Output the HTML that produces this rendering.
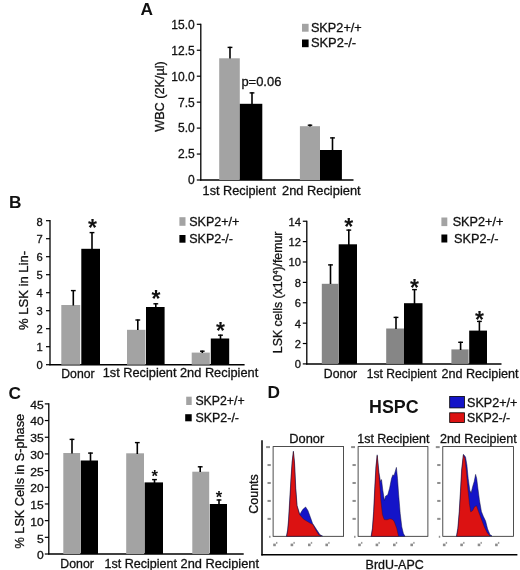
<!DOCTYPE html>
<html><head><meta charset="utf-8"><title>Figure</title>
<style>
html,body{margin:0;padding:0;background:#fff;}
body{width:520px;height:570px;overflow:hidden;}
svg{display:block;will-change:transform;filter:blur(0.3px);font-family:"Liberation Sans", sans-serif;fill:#111;}
text{stroke:#111;stroke-width:0.3px;}
text[font-weight=bold]{stroke:none;}
</style></head><body>
<svg width="520" height="570" viewBox="0 0 520 570">
<rect x="0" y="0" width="520" height="570" fill="#fff"/>
<text x="140.4" y="14.9" font-size="17.3" text-anchor="start" font-weight="bold" >A</text>
<line x1="200.8" y1="23.70000000000001" x2="200.8" y2="180.6" stroke="#000" stroke-width="1.3"/>
<line x1="200.20000000000002" y1="180.0" x2="353.5" y2="180.0" stroke="#000" stroke-width="1.5"/>
<line x1="196.8" y1="180.0" x2="200.8" y2="180.0" stroke="#000" stroke-width="1.2"/>
<text transform="translate(194.8,184.05) scale(0.98,1)" font-size="12.3" text-anchor="end" font-weight="normal" >0</text>
<line x1="196.8" y1="154.05" x2="200.8" y2="154.05" stroke="#000" stroke-width="1.2"/>
<text transform="translate(194.8,158.27) scale(0.98,1)" font-size="12.3" text-anchor="end" font-weight="normal" >2.5</text>
<line x1="196.8" y1="128.1" x2="200.8" y2="128.1" stroke="#000" stroke-width="1.2"/>
<text transform="translate(194.8,132.48) scale(0.98,1)" font-size="12.3" text-anchor="end" font-weight="normal" >5.0</text>
<line x1="196.8" y1="102.15" x2="200.8" y2="102.15" stroke="#000" stroke-width="1.2"/>
<text transform="translate(194.8,106.7) scale(0.98,1)" font-size="12.3" text-anchor="end" font-weight="normal" >7.5</text>
<line x1="196.8" y1="76.2" x2="200.8" y2="76.2" stroke="#000" stroke-width="1.2"/>
<text transform="translate(194.8,80.92) scale(0.98,1)" font-size="12.3" text-anchor="end" font-weight="normal" >10.0</text>
<line x1="196.8" y1="50.25" x2="200.8" y2="50.25" stroke="#000" stroke-width="1.2"/>
<text transform="translate(194.8,55.13) scale(0.98,1)" font-size="12.3" text-anchor="end" font-weight="normal" >12.5</text>
<line x1="196.8" y1="24.30000000000001" x2="200.8" y2="24.30000000000001" stroke="#000" stroke-width="1.2"/>
<text transform="translate(194.8,29.35) scale(0.98,1)" font-size="12.3" text-anchor="end" font-weight="normal" >15.0</text>
<rect x="219.2" y="58.3" width="20.6" height="121.7" fill="#a3a3a3" />
<rect x="239.8" y="103.8" width="22.5" height="76.2" fill="#000" />
<line x1="230" y1="46.8" x2="230" y2="58.5" stroke="#000" stroke-width="1.6"/>
<line x1="227.6" y1="47.4" x2="232.4" y2="47.4" stroke="#000" stroke-width="1.4"/>
<line x1="252" y1="92.3" x2="252" y2="104" stroke="#000" stroke-width="1.6"/>
<line x1="249.6" y1="92.89999999999999" x2="254.4" y2="92.89999999999999" stroke="#000" stroke-width="1.4"/>
<rect x="299.9" y="126.2" width="20.1" height="53.8" fill="#a3a3a3" />
<rect x="320" y="150" width="21.9" height="30.0" fill="#000" />
<line x1="310" y1="124.6" x2="310" y2="126.5" stroke="#000" stroke-width="1.6"/>
<line x1="307.75" y1="125.19999999999999" x2="312.25" y2="125.19999999999999" stroke="#000" stroke-width="1.4"/>
<line x1="332.5" y1="137.3" x2="332.5" y2="150.5" stroke="#000" stroke-width="1.6"/>
<line x1="330.1" y1="137.9" x2="334.9" y2="137.9" stroke="#000" stroke-width="1.4"/>
<text x="241.4" y="86" font-size="13" text-anchor="start" font-weight="normal" textLength="40" lengthAdjust="spacingAndGlyphs" >p=0.06</text>
<text x="202.6" y="195.3" font-size="13" text-anchor="start" font-weight="normal" textLength="73.4" lengthAdjust="spacingAndGlyphs" >1st Recipient</text>
<text x="282.0" y="195.3" font-size="13" text-anchor="start" font-weight="normal" textLength="78.6" lengthAdjust="spacingAndGlyphs" >2nd Recipient</text>
<text transform="translate(164.0,96.5) rotate(-90)" font-size="12.8" text-anchor="middle" textLength="70.5" lengthAdjust="spacingAndGlyphs">WBC (2K/µl)</text>
<rect x="302" y="23.8" width="6.6" height="7.9" fill="#a3a3a3" />
<rect x="302" y="39.5" width="6.6" height="7.7" fill="#000" />
<text x="310.9" y="31.7" font-size="12.5" text-anchor="start" font-weight="normal" textLength="50.9" lengthAdjust="spacingAndGlyphs" >SKP2+/+</text>
<text x="310.9" y="47.3" font-size="12.5" text-anchor="start" font-weight="normal" textLength="45.2" lengthAdjust="spacingAndGlyphs" >SKP2-/-</text>
<text x="9.0" y="208.4" font-size="17.3" text-anchor="start" font-weight="bold" >B</text>
<line x1="50" y1="220.1" x2="50" y2="365.3" stroke="#000" stroke-width="1.3"/>
<line x1="49.4" y1="364.7" x2="244.6" y2="364.7" stroke="#000" stroke-width="1.5"/>
<line x1="46" y1="364.7" x2="50" y2="364.7" stroke="#000" stroke-width="1.2"/>
<text transform="translate(42.7,369.1) scale(1.0,1)" font-size="11.2" text-anchor="end" font-weight="normal" >0</text>
<line x1="46" y1="346.7" x2="50" y2="346.7" stroke="#000" stroke-width="1.2"/>
<text transform="translate(42.7,351.16) scale(1.0,1)" font-size="11.2" text-anchor="end" font-weight="normal" >1</text>
<line x1="46" y1="328.7" x2="50" y2="328.7" stroke="#000" stroke-width="1.2"/>
<text transform="translate(42.7,333.21) scale(1.0,1)" font-size="11.2" text-anchor="end" font-weight="normal" >2</text>
<line x1="46" y1="310.7" x2="50" y2="310.7" stroke="#000" stroke-width="1.2"/>
<text transform="translate(42.7,315.27) scale(1.0,1)" font-size="11.2" text-anchor="end" font-weight="normal" >3</text>
<line x1="46" y1="292.7" x2="50" y2="292.7" stroke="#000" stroke-width="1.2"/>
<text transform="translate(42.7,297.32) scale(1.0,1)" font-size="11.2" text-anchor="end" font-weight="normal" >4</text>
<line x1="46" y1="274.7" x2="50" y2="274.7" stroke="#000" stroke-width="1.2"/>
<text transform="translate(42.7,279.38) scale(1.0,1)" font-size="11.2" text-anchor="end" font-weight="normal" >5</text>
<line x1="46" y1="256.7" x2="50" y2="256.7" stroke="#000" stroke-width="1.2"/>
<text transform="translate(42.7,261.44) scale(1.0,1)" font-size="11.2" text-anchor="end" font-weight="normal" >6</text>
<line x1="46" y1="238.7" x2="50" y2="238.7" stroke="#000" stroke-width="1.2"/>
<text transform="translate(42.7,243.49) scale(1.0,1)" font-size="11.2" text-anchor="end" font-weight="normal" >7</text>
<line x1="46" y1="220.7" x2="50" y2="220.7" stroke="#000" stroke-width="1.2"/>
<text transform="translate(42.7,225.55) scale(1.0,1)" font-size="11.2" text-anchor="end" font-weight="normal" >8</text>
<rect x="61.3" y="305" width="18.9" height="59.7" fill="#a3a3a3" />
<rect x="81.3" y="248.8" width="18.7" height="115.9" fill="#000" />
<line x1="73.3" y1="290" x2="73.3" y2="305.5" stroke="#000" stroke-width="1.6"/>
<line x1="70.89999999999999" y1="290.6" x2="75.7" y2="290.6" stroke="#000" stroke-width="1.4"/>
<line x1="92" y1="232" x2="92" y2="249" stroke="#000" stroke-width="1.6"/>
<line x1="89.6" y1="232.6" x2="94.4" y2="232.6" stroke="#000" stroke-width="1.4"/>
<text x="92.5" y="236.41" font-size="23" text-anchor="middle" font-weight="bold">*</text>
<rect x="127" y="329.8" width="18.5" height="34.9" fill="#a3a3a3" />
<rect x="146" y="307" width="18.6" height="57.7" fill="#000" />
<line x1="137.8" y1="319.4" x2="137.8" y2="330" stroke="#000" stroke-width="1.6"/>
<line x1="135.4" y1="320.0" x2="140.20000000000002" y2="320.0" stroke="#000" stroke-width="1.4"/>
<line x1="155.8" y1="303.2" x2="155.8" y2="307.5" stroke="#000" stroke-width="1.6"/>
<line x1="153.4" y1="303.8" x2="158.20000000000002" y2="303.8" stroke="#000" stroke-width="1.4"/>
<text x="156" y="307.4" font-size="23" text-anchor="middle" font-weight="bold">*</text>
<rect x="191.7" y="352.6" width="18.1" height="12.1" fill="#a3a3a3" />
<rect x="210.8" y="338.5" width="18.4" height="26.2" fill="#000" />
<line x1="202.3" y1="350.6" x2="202.3" y2="353" stroke="#000" stroke-width="1.6"/>
<line x1="200.0" y1="351.20000000000005" x2="204.60000000000002" y2="351.20000000000005" stroke="#000" stroke-width="1.4"/>
<line x1="220.5" y1="334.6" x2="220.5" y2="339" stroke="#000" stroke-width="1.6"/>
<line x1="218.1" y1="335.20000000000005" x2="222.9" y2="335.20000000000005" stroke="#000" stroke-width="1.4"/>
<text x="220.6" y="338.71" font-size="23" text-anchor="middle" font-weight="bold">*</text>
<text x="61.3" y="377.6" font-size="13" text-anchor="start" font-weight="normal" textLength="33.3" lengthAdjust="spacingAndGlyphs" >Donor</text>
<text x="102.7" y="377.4" font-size="13" text-anchor="start" font-weight="normal" textLength="73.8" lengthAdjust="spacingAndGlyphs" >1st Recipient</text>
<text x="180.0" y="377.4" font-size="13" text-anchor="start" font-weight="normal" textLength="78.2" lengthAdjust="spacingAndGlyphs" >2nd Recipient</text>
<text transform="translate(28.0,290.5) rotate(-90)" font-size="13" text-anchor="middle" textLength="79" lengthAdjust="spacingAndGlyphs">% LSK in Lin-</text>
<rect x="179.4" y="217.2" width="6.1" height="8.6" fill="#a3a3a3" />
<rect x="179.4" y="235" width="6.1" height="7.7" fill="#000" />
<text x="189.2" y="225.8" font-size="12.5" text-anchor="start" font-weight="normal" textLength="50.2" lengthAdjust="spacingAndGlyphs" >SKP2+/+</text>
<text x="189.2" y="242.7" font-size="12.5" text-anchor="start" font-weight="normal" textLength="43.8" lengthAdjust="spacingAndGlyphs" >SKP2-/-</text>
<line x1="306.8" y1="220.64" x2="306.8" y2="364.5" stroke="#000" stroke-width="1.3"/>
<line x1="306.2" y1="363.9" x2="501.5" y2="363.9" stroke="#000" stroke-width="1.5"/>
<line x1="302.8" y1="363.9" x2="306.8" y2="363.9" stroke="#000" stroke-width="1.2"/>
<text transform="translate(301.0,368.3) scale(1.0,1)" font-size="11.2" text-anchor="end" font-weight="normal" >0</text>
<line x1="302.8" y1="343.52" x2="306.8" y2="343.52" stroke="#000" stroke-width="1.2"/>
<text transform="translate(301.0,347.92) scale(1.0,1)" font-size="11.2" text-anchor="end" font-weight="normal" >2</text>
<line x1="302.8" y1="323.14" x2="306.8" y2="323.14" stroke="#000" stroke-width="1.2"/>
<text transform="translate(301.0,327.54) scale(1.0,1)" font-size="11.2" text-anchor="end" font-weight="normal" >4</text>
<line x1="302.8" y1="302.76" x2="306.8" y2="302.76" stroke="#000" stroke-width="1.2"/>
<text transform="translate(301.0,307.16) scale(1.0,1)" font-size="11.2" text-anchor="end" font-weight="normal" >6</text>
<line x1="302.8" y1="282.38" x2="306.8" y2="282.38" stroke="#000" stroke-width="1.2"/>
<text transform="translate(301.0,286.78) scale(1.0,1)" font-size="11.2" text-anchor="end" font-weight="normal" >8</text>
<line x1="302.8" y1="262.0" x2="306.8" y2="262.0" stroke="#000" stroke-width="1.2"/>
<text transform="translate(301.0,266.4) scale(1.0,1)" font-size="11.2" text-anchor="end" font-weight="normal" >10</text>
<line x1="302.8" y1="241.61999999999998" x2="306.8" y2="241.61999999999998" stroke="#000" stroke-width="1.2"/>
<text transform="translate(301.0,246.02) scale(1.0,1)" font-size="11.2" text-anchor="end" font-weight="normal" >12</text>
<line x1="302.8" y1="221.23999999999998" x2="306.8" y2="221.23999999999998" stroke="#000" stroke-width="1.2"/>
<text transform="translate(301.0,225.64) scale(1.0,1)" font-size="11.2" text-anchor="end" font-weight="normal" >14</text>
<rect x="321.8" y="283.8" width="16.5" height="80.1" fill="#868686" />
<rect x="338.7" y="244.3" width="18.3" height="119.6" fill="#000" />
<line x1="330.5" y1="264.3" x2="330.5" y2="284" stroke="#000" stroke-width="1.6"/>
<line x1="328.1" y1="264.90000000000003" x2="332.9" y2="264.90000000000003" stroke="#000" stroke-width="1.4"/>
<line x1="348.8" y1="229.5" x2="348.8" y2="245" stroke="#000" stroke-width="1.6"/>
<line x1="346.40000000000003" y1="230.1" x2="351.2" y2="230.1" stroke="#000" stroke-width="1.4"/>
<text x="348.8" y="235.21" font-size="23" text-anchor="middle" font-weight="bold">*</text>
<rect x="386.2" y="328.5" width="17.8" height="35.4" fill="#868686" />
<rect x="404" y="303.2" width="18.5" height="60.7" fill="#000" />
<line x1="396" y1="316.8" x2="396" y2="329" stroke="#000" stroke-width="1.6"/>
<line x1="393.6" y1="317.40000000000003" x2="398.4" y2="317.40000000000003" stroke="#000" stroke-width="1.4"/>
<line x1="414.5" y1="289" x2="414.5" y2="304" stroke="#000" stroke-width="1.6"/>
<line x1="412.1" y1="289.6" x2="416.9" y2="289.6" stroke="#000" stroke-width="1.4"/>
<text x="414.5" y="295.71" font-size="23" text-anchor="middle" font-weight="bold">*</text>
<rect x="451.4" y="349.4" width="17.2" height="14.5" fill="#868686" />
<rect x="469.2" y="330.6" width="17.8" height="33.3" fill="#000" />
<line x1="460.6" y1="341.7" x2="460.6" y2="350" stroke="#000" stroke-width="1.6"/>
<line x1="458.20000000000005" y1="342.3" x2="463.0" y2="342.3" stroke="#000" stroke-width="1.4"/>
<line x1="479.4" y1="320.8" x2="479.4" y2="331" stroke="#000" stroke-width="1.6"/>
<line x1="477.0" y1="321.40000000000003" x2="481.79999999999995" y2="321.40000000000003" stroke="#000" stroke-width="1.4"/>
<text x="479.4" y="327.71" font-size="23" text-anchor="middle" font-weight="bold">*</text>
<text x="323.8" y="377.8" font-size="13" text-anchor="start" font-weight="normal" textLength="33.4" lengthAdjust="spacingAndGlyphs" >Donor</text>
<text x="366.8" y="377.8" font-size="13" text-anchor="start" font-weight="normal" textLength="69.8" lengthAdjust="spacingAndGlyphs" >1st Recipient</text>
<text x="441.5" y="377.8" font-size="13" text-anchor="start" font-weight="normal" textLength="77" lengthAdjust="spacingAndGlyphs" >2nd Recipient</text>
<text transform="translate(282.2,292.4) rotate(-90)" font-size="12.3" text-anchor="middle">LSK cells (x10<tspan font-size="7" dy="-4">4</tspan><tspan dy="4">)/femur</tspan></text>
<rect x="441.4" y="217.5" width="5.9" height="8.6" fill="#a3a3a3" />
<rect x="441.4" y="234.5" width="5.9" height="8.0" fill="#000" />
<text x="452.7" y="226.1" font-size="12.5" text-anchor="start" font-weight="normal" textLength="50.6" lengthAdjust="spacingAndGlyphs" >SKP2+/+</text>
<text x="454" y="243" font-size="12.5" text-anchor="start" font-weight="normal" textLength="44.5" lengthAdjust="spacingAndGlyphs" >SKP2-/-</text>
<text x="8.6" y="399.0" font-size="17.3" text-anchor="start" font-weight="bold" >C</text>
<line x1="48.8" y1="403.28" x2="48.8" y2="554.6" stroke="#000" stroke-width="1.3"/>
<line x1="48.199999999999996" y1="554" x2="243.7" y2="554" stroke="#000" stroke-width="1.5"/>
<line x1="44.8" y1="554.0" x2="48.8" y2="554.0" stroke="#000" stroke-width="1.2"/>
<text transform="translate(43.8,559.3) scale(1.08,1)" font-size="11.2" text-anchor="end" font-weight="normal" >0</text>
<line x1="44.8" y1="537.32" x2="48.8" y2="537.32" stroke="#000" stroke-width="1.2"/>
<text transform="translate(43.8,542.55) scale(1.08,1)" font-size="11.2" text-anchor="end" font-weight="normal" >5</text>
<line x1="44.8" y1="520.64" x2="48.8" y2="520.64" stroke="#000" stroke-width="1.2"/>
<text transform="translate(43.8,525.81) scale(1.08,1)" font-size="11.2" text-anchor="end" font-weight="normal" >10</text>
<line x1="44.8" y1="503.96" x2="48.8" y2="503.96" stroke="#000" stroke-width="1.2"/>
<text transform="translate(43.8,509.06) scale(1.08,1)" font-size="11.2" text-anchor="end" font-weight="normal" >15</text>
<line x1="44.8" y1="487.28" x2="48.8" y2="487.28" stroke="#000" stroke-width="1.2"/>
<text transform="translate(43.8,492.31) scale(1.08,1)" font-size="11.2" text-anchor="end" font-weight="normal" >20</text>
<line x1="44.8" y1="470.6" x2="48.8" y2="470.6" stroke="#000" stroke-width="1.2"/>
<text transform="translate(43.8,475.57) scale(1.08,1)" font-size="11.2" text-anchor="end" font-weight="normal" >25</text>
<line x1="44.8" y1="453.92" x2="48.8" y2="453.92" stroke="#000" stroke-width="1.2"/>
<text transform="translate(43.8,458.82) scale(1.08,1)" font-size="11.2" text-anchor="end" font-weight="normal" >30</text>
<line x1="44.8" y1="437.24" x2="48.8" y2="437.24" stroke="#000" stroke-width="1.2"/>
<text transform="translate(43.8,442.07) scale(1.08,1)" font-size="11.2" text-anchor="end" font-weight="normal" >35</text>
<line x1="44.8" y1="420.56" x2="48.8" y2="420.56" stroke="#000" stroke-width="1.2"/>
<text transform="translate(43.8,425.33) scale(1.08,1)" font-size="11.2" text-anchor="end" font-weight="normal" >40</text>
<line x1="44.8" y1="403.88" x2="48.8" y2="403.88" stroke="#000" stroke-width="1.2"/>
<text transform="translate(43.8,408.58) scale(1.08,1)" font-size="11.2" text-anchor="end" font-weight="normal" >45</text>
<rect x="63.3" y="453" width="16.8" height="101" fill="#a3a3a3" />
<rect x="80.7" y="460.5" width="17.3" height="93.5" fill="#000" />
<line x1="72" y1="438.8" x2="72" y2="453.5" stroke="#000" stroke-width="1.6"/>
<line x1="69.6" y1="439.40000000000003" x2="74.4" y2="439.40000000000003" stroke="#000" stroke-width="1.4"/>
<line x1="90.5" y1="452.5" x2="90.5" y2="461" stroke="#000" stroke-width="1.6"/>
<line x1="88.1" y1="453.1" x2="92.9" y2="453.1" stroke="#000" stroke-width="1.4"/>
<rect x="126.2" y="453.3" width="17.8" height="100.7" fill="#a3a3a3" />
<rect x="144.6" y="482.4" width="18.4" height="71.6" fill="#000" />
<line x1="137.3" y1="442" x2="137.3" y2="454" stroke="#000" stroke-width="1.6"/>
<line x1="134.9" y1="442.6" x2="139.70000000000002" y2="442.6" stroke="#000" stroke-width="1.4"/>
<line x1="154.5" y1="479" x2="154.5" y2="483" stroke="#000" stroke-width="1.6"/>
<line x1="152.1" y1="479.6" x2="156.9" y2="479.6" stroke="#000" stroke-width="1.4"/>
<text x="154.8" y="481.93" font-size="16.5" text-anchor="middle" font-weight="bold">*</text>
<rect x="192.3" y="471.7" width="16.9" height="82.3" fill="#a3a3a3" />
<rect x="209.8" y="504" width="17.2" height="50" fill="#000" />
<line x1="200.2" y1="466.2" x2="200.2" y2="472" stroke="#000" stroke-width="1.6"/>
<line x1="197.79999999999998" y1="466.8" x2="202.6" y2="466.8" stroke="#000" stroke-width="1.4"/>
<line x1="219" y1="499.4" x2="219" y2="504.5" stroke="#000" stroke-width="1.6"/>
<line x1="216.6" y1="500.0" x2="221.4" y2="500.0" stroke="#000" stroke-width="1.4"/>
<text x="219" y="502.53" font-size="16.5" text-anchor="middle" font-weight="bold">*</text>
<text x="60.3" y="568.2" font-size="13" text-anchor="start" font-weight="normal" textLength="33.6" lengthAdjust="spacingAndGlyphs" >Donor</text>
<text x="104.4" y="568.2" font-size="13" text-anchor="start" font-weight="normal" textLength="72.6" lengthAdjust="spacingAndGlyphs" >1st Recipient</text>
<text x="180.6" y="568.2" font-size="13" text-anchor="start" font-weight="normal" textLength="78.4" lengthAdjust="spacingAndGlyphs" >2nd Recipient</text>
<text transform="translate(23.6,481.2) rotate(-90)" font-size="12.5" text-anchor="middle" textLength="134.5" lengthAdjust="spacingAndGlyphs">% LSK Cells in S-phase</text>
<rect x="186.2" y="396.7" width="5.5" height="8.3" fill="#a3a3a3" />
<rect x="185.2" y="414.2" width="6.5" height="7.1" fill="#000" />
<text x="195.4" y="405" font-size="12.5" text-anchor="start" font-weight="normal" textLength="49.2" lengthAdjust="spacingAndGlyphs" >SKP2+/+</text>
<text x="195.4" y="422" font-size="12.5" text-anchor="start" font-weight="normal" textLength="43.6" lengthAdjust="spacingAndGlyphs" >SKP2-/-</text>
<text x="267.4" y="398.0" font-size="17.3" text-anchor="start" font-weight="bold" >D</text>
<text x="369" y="412.8" font-size="17.5" text-anchor="start" font-weight="bold" textLength="49.6" lengthAdjust="spacingAndGlyphs" >HSPC</text>
<rect x="449.7" y="396.4" width="14.7" height="11.5" fill="#1414c8" stroke="#000" stroke-width="0.8"/>
<rect x="449.7" y="412.8" width="14.7" height="9.8" fill="#dc1212" stroke="#000" stroke-width="0.8"/>
<text x="467" y="407" font-size="12.5" text-anchor="start" font-weight="normal" textLength="50.4" lengthAdjust="spacingAndGlyphs" >SKP2+/+</text>
<text x="467" y="422" font-size="12.5" text-anchor="start" font-weight="normal" textLength="43.2" lengthAdjust="spacingAndGlyphs" >SKP2-/-</text>
<text x="289.3" y="442.7" font-size="13" text-anchor="start" font-weight="normal" textLength="35" lengthAdjust="spacingAndGlyphs" >Donor</text>
<text x="357.2" y="442.9" font-size="13" text-anchor="start" font-weight="normal" textLength="72.2" lengthAdjust="spacingAndGlyphs" >1st Recipient</text>
<text x="439.9" y="442.9" font-size="13" text-anchor="start" font-weight="normal" textLength="76.8" lengthAdjust="spacingAndGlyphs" >2nd Recipient</text>
<text transform="translate(257.6,494.0) rotate(-90)" font-size="12.4" text-anchor="middle" textLength="39.6" lengthAdjust="spacingAndGlyphs">Counts</text>
<text x="365.6" y="569" font-size="12.5" text-anchor="start" font-weight="normal" textLength="58.1" lengthAdjust="spacingAndGlyphs" >BrdU-APC</text>
<line x1="262.0" y1="440.2" x2="262.0" y2="555.4" stroke="#000" stroke-width="1.5"/>
<line x1="261.3" y1="554.7" x2="517.4" y2="554.7" stroke="#000" stroke-width="1.6"/>
<rect x="273.1" y="446.6" width="70.5" height="89.7" fill="#fff" stroke="#222" stroke-width="0.8"/>
<polygon points="286.4,536.2 287.6,530 288.5,520 289.7,500 291.0,478 292.1,462 293.4,451 294.6,463.2 295.8,488.3 297.1,505.7 299.8,514.4 302.7,509.6 305.6,507 307.9,510.5 310.4,517.3 312.5,523.3 316.4,529.3 320,534.8 322.5,536" fill="#1414c8" stroke="#101040" stroke-width="0.5"/>
<polygon points="286.8,536.2 287.9,530 288.8,520 290.0,500 291.2,478 292.3,462 293.4,452 294.4,463.2 295.5,488.3 296.9,505.7 299.4,514.4 303.6,519.2 309.4,522.7 312.9,524.6 315.6,529.8 318.7,534.7 321,536" fill="#dc1212" stroke="#401010" stroke-width="0.4"/>
<rect x="266.1" y="446.1" width="3.9" height="2" fill="#8e8e8e"/>
<rect x="267.5" y="464.04" width="3.3" height="2" fill="#8e8e8e"/>
<rect x="267.5" y="481.98" width="3.3" height="2" fill="#8e8e8e"/>
<rect x="267.5" y="499.92" width="3.3" height="2" fill="#8e8e8e"/>
<rect x="267.5" y="517.86" width="3.3" height="2" fill="#8e8e8e"/>
<rect x="269.1" y="535.8" width="1.4" height="2" fill="#8e8e8e"/>
<rect x="273.2" y="543.6" width="2.6" height="2.6" fill="#8c8c8c"/>
<rect x="276.0" y="541.9" width="1.4" height="1.9" fill="#9c9c9c"/>
<rect x="290.6" y="543.6" width="2.6" height="2.6" fill="#8c8c8c"/>
<rect x="293.4" y="541.9" width="1.4" height="1.9" fill="#9c9c9c"/>
<rect x="308.0" y="543.6" width="2.6" height="2.6" fill="#8c8c8c"/>
<rect x="310.8" y="541.9" width="1.4" height="1.9" fill="#9c9c9c"/>
<rect x="325.4" y="543.6" width="2.6" height="2.6" fill="#8c8c8c"/>
<rect x="328.2" y="541.9" width="1.4" height="1.9" fill="#9c9c9c"/>
<rect x="358.1" y="446.6" width="69.8" height="89.7" fill="#fff" stroke="#222" stroke-width="0.8"/>
<polygon points="371.1,536.3 372.4,528.3 373.6,511.7 374.8,486.7 375.9,466.7 377.2,454.8 379,472.8 380.5,481.5 381.5,479.6 382.8,490.2 384.4,500.3 385.7,496 387.7,495 389.6,488.3 391.5,478.6 392.9,474.8 394,475.7 396.4,467.4 397.5,478.6 398.6,494.1 400.2,513.4 401.8,526.9 403.4,533.5 405.0,536.3" fill="#1414c8" stroke="#101040" stroke-width="0.5"/>
<polygon points="371.5,536.3 372.7,528.3 373.9,511.7 375.1,486.7 376.2,466.7 377.2,455.8 378.4,470 379.4,481 380.8,500 382.4,514.5 384.2,519.6 387,519.8 390,518.8 392.5,519.4 394.3,521.7 396.7,528.3 398.5,536.3" fill="#dc1212" stroke="#401010" stroke-width="0.4"/>
<rect x="351.1" y="446.1" width="3.9" height="2" fill="#8e8e8e"/>
<rect x="352.5" y="464.04" width="3.3" height="2" fill="#8e8e8e"/>
<rect x="352.5" y="481.98" width="3.3" height="2" fill="#8e8e8e"/>
<rect x="352.5" y="499.92" width="3.3" height="2" fill="#8e8e8e"/>
<rect x="352.5" y="517.86" width="3.3" height="2" fill="#8e8e8e"/>
<rect x="354.1" y="535.8" width="1.4" height="2" fill="#8e8e8e"/>
<rect x="358.2" y="543.6" width="2.6" height="2.6" fill="#8c8c8c"/>
<rect x="361.0" y="541.9" width="1.4" height="1.9" fill="#9c9c9c"/>
<rect x="375.6" y="543.6" width="2.6" height="2.6" fill="#8c8c8c"/>
<rect x="378.4" y="541.9" width="1.4" height="1.9" fill="#9c9c9c"/>
<rect x="393.0" y="543.6" width="2.6" height="2.6" fill="#8c8c8c"/>
<rect x="395.8" y="541.9" width="1.4" height="1.9" fill="#9c9c9c"/>
<rect x="410.4" y="543.6" width="2.6" height="2.6" fill="#8c8c8c"/>
<rect x="413.2" y="541.9" width="1.4" height="1.9" fill="#9c9c9c"/>
<rect x="442.8" y="446.6" width="70.6" height="89.7" fill="#fff" stroke="#222" stroke-width="0.8"/>
<polygon points="456.4,536.3 457.8,528.3 459.2,511.7 460.4,491.7 461.6,470 463.4,454.3 465.5,457 466.9,465 468.2,478.6 469.8,490.2 471.1,493.1 472.7,486.4 474.2,481.5 475.6,474.4 476.7,478.6 477.9,488.3 479.4,499.9 481.4,511.5 483.3,516.3 485.6,521.1 487.6,528.9 490,534.7 492,536" fill="#1414c8" stroke="#101040" stroke-width="0.5"/>
<polygon points="456.8,536.3 458.1,528.3 459.5,511.7 460.7,491.7 461.9,470 463.4,455.1 464.9,458.4 466.3,470.9 467.8,488.3 469.4,503.8 470.7,511.9 472.7,510.5 474.6,506.7 476.5,505.7 478.5,511.5 481.4,519.2 484.3,526.9 487.2,532.7 490,536" fill="#dc1212" stroke="#401010" stroke-width="0.4"/>
<rect x="435.8" y="446.1" width="3.9" height="2" fill="#8e8e8e"/>
<rect x="437.2" y="464.04" width="3.3" height="2" fill="#8e8e8e"/>
<rect x="437.2" y="481.98" width="3.3" height="2" fill="#8e8e8e"/>
<rect x="437.2" y="499.92" width="3.3" height="2" fill="#8e8e8e"/>
<rect x="437.2" y="517.86" width="3.3" height="2" fill="#8e8e8e"/>
<rect x="438.8" y="535.8" width="1.4" height="2" fill="#8e8e8e"/>
<rect x="442.9" y="543.6" width="2.6" height="2.6" fill="#8c8c8c"/>
<rect x="445.7" y="541.9" width="1.4" height="1.9" fill="#9c9c9c"/>
<rect x="460.3" y="543.6" width="2.6" height="2.6" fill="#8c8c8c"/>
<rect x="463.1" y="541.9" width="1.4" height="1.9" fill="#9c9c9c"/>
<rect x="477.7" y="543.6" width="2.6" height="2.6" fill="#8c8c8c"/>
<rect x="480.5" y="541.9" width="1.4" height="1.9" fill="#9c9c9c"/>
<rect x="495.1" y="543.6" width="2.6" height="2.6" fill="#8c8c8c"/>
<rect x="497.9" y="541.9" width="1.4" height="1.9" fill="#9c9c9c"/>
</svg></body></html>
